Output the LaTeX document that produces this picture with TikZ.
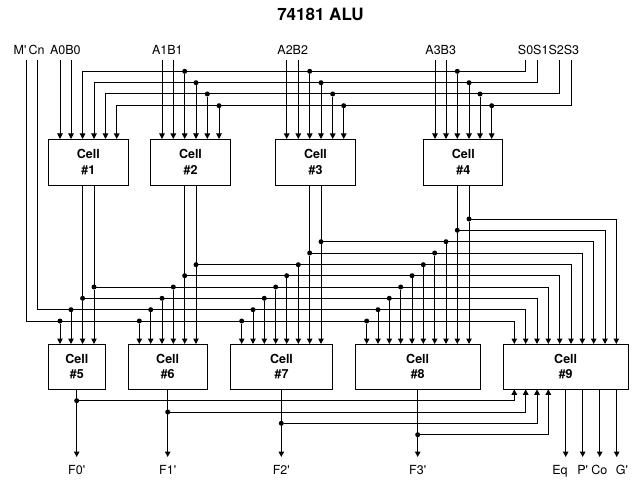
\documentclass[tikz,border=0pt]{standalone}
\usepackage{fontspec}
\setmainfont{TeX Gyre Heros}[Ligatures=TeXOff]
\usetikzlibrary{arrows.meta}

\tikzset{
    wire/.style={line width=1pt, -{Triangle[length=5.5pt, width=5.5pt]}},
    dot/.style={circle, fill=black, inner sep=0pt, minimum size=5pt},
    cell/.style={draw, line width=1pt, inner sep=0pt, align=center, font=\fontsize{12.5}{15.4}\selectfont\bfseries},
    lbl/.style={inner sep=0pt, anchor=base, font=\fontsize{12.5}{15}\selectfont},
}

\begin{document}
\begin{tikzpicture}[x=1pt, y=-1pt]
    \useasboundingbox (0,0) rectangle (639,481);

    \node[lbl, font=\fontsize{17}{19}\selectfont\bfseries] (title) at (320.5,20.7) {74181 ALU};

    % top labels
    \node[lbl] (lblM) at (20,54.3) {M'};
    \node[lbl] (lblCn) at (36.7,54.3) {Cn};
    \node[lbl] (lblAB0) at (65.3,54.3) {A0B0};
    \node[lbl] (lblAB1) at (167.3,54.3) {A1B1};
    \node[lbl] (lblAB2) at (292.7,54.3) {A2B2};
    \node[lbl] (lblAB3) at (440.7,54.3) {A3B3};
    \node[lbl] (lblS) at (548.5,54.3) {S0S1S2S3};

    % cells
    \foreach \n/\cx/\cy/\w/\h in {1/88.3/162.2/80/45.7, 2/190.5/162.2/79.6/45.7, 3/315.5/162.2/79.6/45.7, 4/463.3/162.2/79.3/45.7,
        5/76.8/366.7/57/45.3, 6/167.7/366.7/79.3/45.3, 7/281.5/366.7/102.4/45.3, 8/417.7/366.7/125.3/45.3, 9/565.7/366.7/125.3/45.3}
        \node[cell, minimum width=\w pt, minimum height=\h pt] (cell\n) at (\cx,\cy) {Cell\\\#\n};

    % pins on top of the cells
    \foreach \c/\y/\xs in {1/139/{60,71,82.6,94,105.5,116.7}, 2/139/{162,173.3,184.7,196,207.3,219},
        3/139/{286.7,298.3,309.7,321,332.7,343.7}, 4/139/{435,446,457.3,469,480,491.7},
        5/344/{60,71,82.6,94}, 6/344/{139.3,150.7,162,173.3,184.7,196},
        7/344/{241.7,253,264.3,275.7,286.7,298.3,309.7,321},
        8/344/{366.7,378,389.3,400.7,412,423.3,434.7,446,457.3,469},
        9/344/{514.3,525.7,537,548.3,559.7,571,582.3,593.7,605,616.3}}
        \foreach \x [count=\i] in \xs
            \coordinate (c\c-\i) at (\x,\y);

    % free ends
    \foreach \n/\x in {M/26,Cn/37,Sa/525.7,Sb/537,Sc/559.7,Sd/571}
        \coordinate (in\n) at (\x,60);

    % straight inputs
    \foreach \n/\x/\p in {Aa/60/c1-1,Ab/71/c1-2,Ba/162/c2-1,Bb/173.3/c2-2,Ca/286.7/c3-1,Cb/298.3/c3-2,Da/435/c4-1,Db/446/c4-2}{
        \coordinate (in\n) at (\x,60);
        \draw[wire] (in\n) -- (\p);
    }

    % outputs of the first row
    \foreach \n/\x in {a/82.6,b/94,c/184.7,d/196,e/309.7,f/321,g/457.3,h/469}
        \coordinate (out\n) at (\x,185);

    % buses with taps
    \foreach \src/\y/\dst/\taps in {inSa/71.3/c1-3/{c2-3,c3-3,c4-3}, inSb/82.7/c1-4/{c2-4,c3-4,c4-4},
        inSc/94/c1-5/{c2-5,c3-5,c4-5}, inSd/105.7/c1-6/{c2-6,c3-6,c4-6},
        inM/321/c9-1/{c5-1,c6-1,c7-1,c8-1}, inCn/309.7/c9-2/{c5-2,c6-2,c7-2,c8-2},
        outa/298.3/c9-3/{c5-3,c6-3,c7-3,c8-3}, outb/287/c9-4/{c5-4,c6-4,c7-4,c8-4},
        outc/275.7/c9-5/{c6-5,c7-5,c8-5}, outd/264.7/c9-6/{c6-6,c7-6,c8-6},
        oute/253/c9-7/{c7-7,c8-7}, outf/241.7/c9-8/{c7-8,c8-8},
        outg/230.3/c9-9/{c8-9}, outh/219/c9-10/{c8-10}}{
        \draw[wire] (\src) |- (\dst |- 0,\y) -- (\dst);
        \foreach \t in \taps {
            \node[dot] (j\t) at (\t |- 0,\y) {};
            \draw[wire] (j\t) -- (\t);
        }
    }

    % outputs of the second row
    \coordinate (b9a) at (514.3,389.3);
    \coordinate (b9b) at (525.7,389.3);
    \coordinate (b9c) at (537,389.3);
    \coordinate (b9d) at (548.3,389.3);
    \foreach \n/\x/\y/\t/\f in {5/76.7/400.7/b9a/F0', 6/167.7/412/b9b/F1', 7/281.3/423.3/b9c/F2', 8/417.7/434.7/b9d/F3'}{
        \coordinate (end\n) at (\x,457);
        \draw[wire] (cell\n.south -| end\n) -- (end\n);
        \node[dot] (tap\n) at (\x,\y) {};
        \draw[wire] (tap\n) -| (\t);
        \node[lbl] (lblF\n) at (\x,474) {\f};
    }
    \foreach \x/\lx/\s/\f in {565.7/560/a/Eq, 582.7/582.7/b/P', 599.7/599.3/c/Co, 616.7/622/d/G'}{
        \coordinate (end\s) at (\x,457);
        \draw[wire] (cell9.south -| end\s) -- (end\s);
        \node[lbl] (lbl\s) at (\lx,474) {\f};
    }
\end{tikzpicture}
\end{document}
